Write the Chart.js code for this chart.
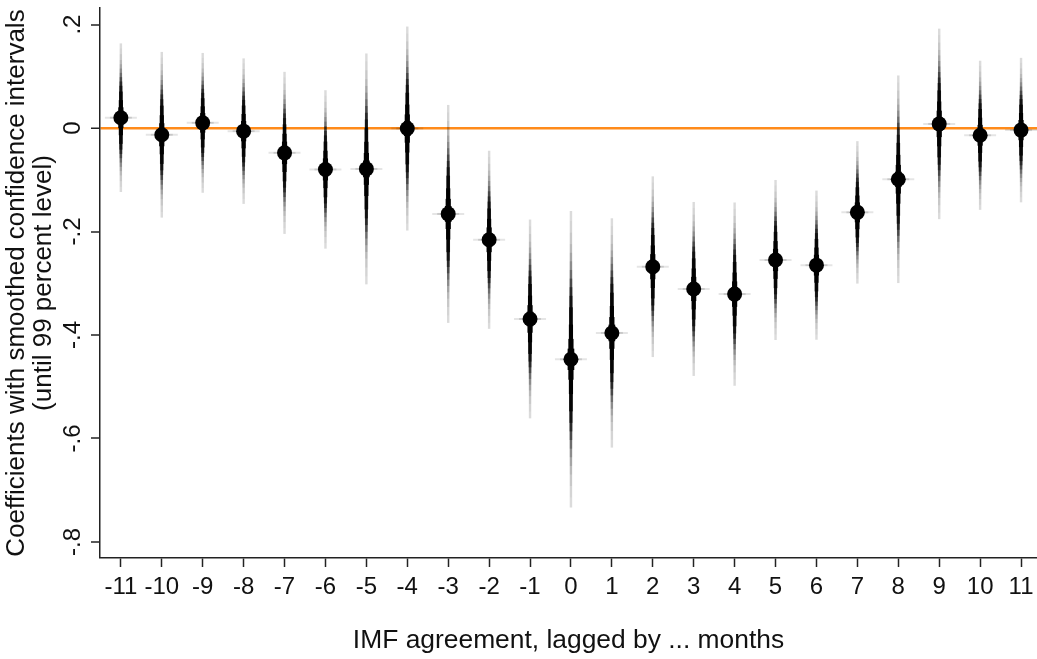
<!DOCTYPE html>
<html>
<head>
<meta charset="utf-8">
<script src="https://cdn.jsdelivr.net/npm/chart.js@4.4.1/dist/chart.umd.min.js"></script>
<style>
  html, body { margin: 0; padding: 0; background: #fff; }
  #wrap { width: 1037px; height: 659px; }
</style>
</head>
<body>
<div id="wrap"><canvas id="coef-chart" width="1037" height="659"></canvas></div>
<script>
// lag of the IMF agreement (months) and the estimated coefficient at each lag
const lags = [-11, -10, -9, -8, -7, -6, -5, -4, -3, -2, -1, 0, 1, 2, 3, 4, 5, 6, 7, 8, 9, 10, 11];
const coefficients = [0.020, -0.013, 0.010, -0.006, -0.048, -0.080, -0.079, -0.001, -0.166, -0.216, -0.369, -0.447,
  -0.396, -0.268, -0.311, -0.321, -0.255, -0.265, -0.163, -0.099, 0.008, -0.014, -0.004];
// 99 percent interval ends
const ci99Lower = [-0.124, -0.174, -0.125, -0.145, -0.203, -0.232, -0.300, -0.197, -0.376, -0.387, -0.561, -0.734,
  -0.616, -0.442, -0.477, -0.499, -0.408, -0.408, -0.300, -0.298, -0.176, -0.158, -0.143];
const ci99Upper = [0.162, 0.145, 0.144, 0.135, 0.109, 0.073, 0.145, 0.196, 0.044, -0.044, -0.178, -0.162,
  -0.174, -0.094, -0.142, -0.146, -0.100, -0.121, -0.026, 0.102, 0.191, 0.129, 0.135];

const yTickValues = [0.2, 0, -0.2, -0.4, -0.6, -0.8];
const yTickLabels = ['.2', '0', '-.2', '-.4', '-.6', '-.8'];

// smoothing: nested intervals (in standard errors), each a thin translucent floating bar.
// shade = how dark the band gets inside that interval, outer to inner
const bandZ = [2.576, 2.4, 2.2, 2.0, 1.85, 1.7, 1.55, 1.4, 1.25, 1.1, 0.9, 0.6, 0.35, 0.18];
const bandShade = [0.14, 0.17, 0.22, 0.28, 0.36, 0.46, 0.58, 0.72, 0.85, 0.94, 0.99, 1, 1, 1];
const bandWidth = [1.8, 1.8, 1.8, 1.8, 1.8, 1.8, 1.8, 2, 2.2, 2.5, 3, 3.5, 4.5, 6];
const Z99 = 2.576;

const FONT = "'Liberation Sans', Arial, Helvetica, sans-serif";
const ORANGE = '#ff8b1a';
const AXIS = '#222';

const ciDatasets = bandZ.map((z, k) => {
  const prev = k > 0 ? bandShade[k - 1] : 0;
  // alpha that takes the stack from the previous shade to this one; solid once fully dark
  const alpha = (prev >= 0.999 || bandShade[k] >= 1) ? 1 : 1 - (1 - bandShade[k]) / (1 - prev);
  return {
    type: 'bar',
    label: 'band ' + z,
    data: lags.map((lag, i) => {
      const se = (ci99Upper[i] - ci99Lower[i]) / (2 * Z99);
      return { x: lag, y: [coefficients[i] - z * se, coefficients[i] + z * se] };
    }),
    backgroundColor: `rgba(0,0,0,${alpha.toFixed(3)})`,
    borderWidth: 0,
    barThickness: bandWidth[k],
    grouped: false,
  };
});

const points = lags.map((lag, i) => ({ x: lag, y: coefficients[i] }));

// rotated tick labels make Chart.js reserve room at the ends of the axes; drop it
function noPadding(s) {
  s.paddingLeft = 0; s.paddingRight = 0; s.paddingTop = 0; s.paddingBottom = 0;
}

new Chart(document.getElementById('coef-chart'), {
  type: 'bar',
  data: {
    datasets: [
      {
        type: 'line',
        label: 'coefficient',
        data: points,
        showLine: false,
        pointRadius: 7.5,
        pointHoverRadius: 7.5,
        pointBackgroundColor: '#000',
        pointBorderWidth: 0,
      },
      {
        type: 'line',
        label: 'blip-inner',
        data: points,
        showLine: false,
        pointStyle: 'line',
        pointRadius: 11,
        pointBorderColor: 'rgba(0,0,0,0.13)',
        pointBorderWidth: 2,
      },
      {
        type: 'line',
        label: 'blip-outer',
        data: points,
        showLine: false,
        pointStyle: 'line',
        pointRadius: 16,
        pointBorderColor: 'rgba(0,0,0,0.10)',
        pointBorderWidth: 2,
      },
      ...ciDatasets,
    ],
  },
  options: {
    responsive: false,
    animation: false,
    devicePixelRatio: 1,
    events: [],
    layout: { autoPadding: false, padding: { top: 8, right: 0, bottom: 0, left: 0 } },
    plugins: { legend: { display: false }, tooltip: { enabled: false } },
    scales: {
      x: {
        type: 'linear',
        min: -11.51,
        max: 11.39,
        offset: false,
        afterBuildTicks: s => { s.ticks = lags.map(v => ({ value: v })); },
        afterFit: s => { s.height = 101; noPadding(s); },
        grid: { display: true, offset: false, drawOnChartArea: false, drawTicks: true, tickLength: 9, tickColor: AXIS, tickWidth: 1.5 },
        border: { display: true, color: AXIS, width: 1.5 },
        ticks: {
          autoSkip: false, maxRotation: 0, padding: 6, color: '#111',
          font: { family: FONT, size: 24 },
          callback: v => String(v),
        },
        title: {
          display: true, text: 'IMF agreement, lagged by ... months', color: '#111',
          font: { family: FONT, size: 26.4 }, padding: { top: 0, bottom: 2 },
        },
      },
      y: {
        type: 'linear',
        min: -0.831,
        max: 0.232,
        afterBuildTicks: s => { s.ticks = yTickValues.map(v => ({ value: v })); },
        afterFit: s => { s.width = 100; noPadding(s); },
        grid: {
          drawOnChartArea: true,
          color: ctx => (ctx.tick && ctx.tick.value === 0) ? ORANGE : 'rgba(0,0,0,0)',
          lineWidth: ctx => (ctx.tick && ctx.tick.value === 0) ? 2.5 : 0,
          tickColor: AXIS, tickLength: 9, tickWidth: 1.5,
        },
        border: { display: true, color: AXIS, width: 1.5 },
        ticks: {
          minRotation: 90, maxRotation: 90, crossAlign: 'center', padding: 4, color: '#111',
          font: { family: FONT, size: 24 },
          callback: (v, i) => yTickLabels[i],
        },
        title: {
          display: true,
          text: ['Coefficients with smoothed confidence intervals', '(until 99 percent level)'],
          color: '#111',
          font: { family: FONT, size: 26, lineHeight: 1.05 },
          padding: { top: 3, bottom: 0 },
        },
      },
    },
  },
});
</script>
</body>
</html>
